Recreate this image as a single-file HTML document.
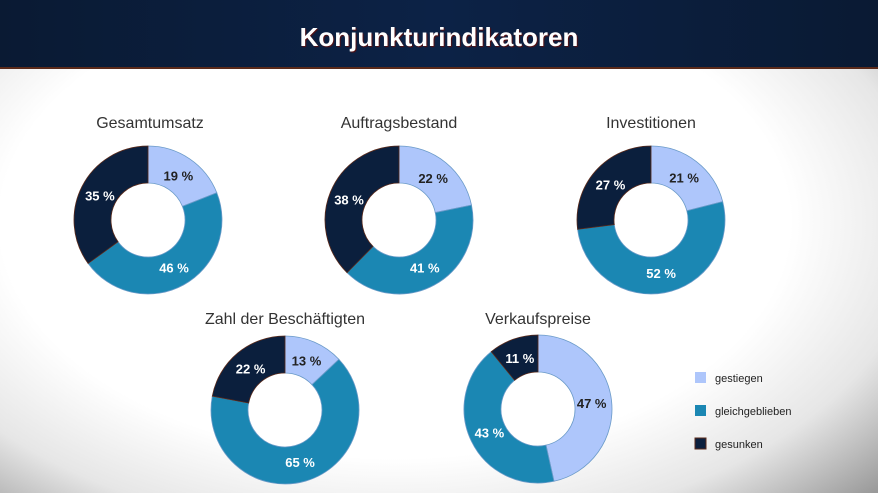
<!DOCTYPE html>
<html><head><meta charset="utf-8"><style>
html,body{margin:0;padding:0;width:878px;height:493px;overflow:hidden;font-family:"Liberation Sans",sans-serif}
#bg{position:absolute;left:0;top:0;width:878px;height:493px;background:radial-gradient(ellipse 75% 80% at 45% 45%,#fff 60%,#e6e6e6 80%,#9a9a9a 100%)}
#hdr{position:absolute;left:0;top:0;width:878px;height:67px;background:linear-gradient(90deg,#0a1a33,#0c2246 50%,#0a1a33);border-bottom:2px solid #5a2a1a}
#hdr div{color:#fff;font-weight:bold;font-size:26px;text-align:center;line-height:74px;text-shadow:1px 1px 1px #5a1010}
svg{position:absolute;left:0;top:0}
</style></head><body>
<div id="bg"></div>
<div id="hdr"><div>Konjunkturindikatoren</div></div>
<svg id="s" width="878" height="493" xmlns="http://www.w3.org/2000/svg" font-family="Liberation Sans, sans-serif">
<g font-size="16" fill="#333" text-anchor="middle">
<text x="150" y="128">Gesamtumsatz</text>
<text x="399" y="128">Auftragsbestand</text>
<text x="651" y="128">Investitionen</text>
<text x="285" y="324">Zahl der Beschäftigten</text>
<text x="538" y="324">Verkaufspreise</text>
</g>
<g font-size="11" fill="#222">
<rect x="695" y="372" width="11" height="11" fill="#aec6fb"/><text x="715" y="382">gestiegen</text>
<rect x="695" y="405" width="11" height="11" fill="#1b87b3"/><text x="715" y="415">gleichgeblieben</text>
<rect x="695" y="438" width="11" height="11" fill="#0b1f3d" stroke="#5a2a1a"/><text x="715" y="448">gesunken</text>
</g>
</svg>
<script>
var s=document.getElementById('s'),NS='http://www.w3.org/2000/svg';
var cols=['#aec6fb','#1b87b3','#0b1f3d'],tc=['#222','#fff','#fff'];
var charts=[[148,220,[19,46,35]],[399,220,[22,41,38]],[651,220,[21,52,27]],[285,410,[13,65,22]],[538,409,[47,43,11]]];
var R=74,r=37;
function pt(cx,cy,rad,a){return [cx+rad*Math.sin(a),cy-rad*Math.cos(a)];}
charts.forEach(function(c){
 var tot=c[2].reduce(function(a,b){return a+b},0),a0=0;
 c[2].forEach(function(v,i){
  var a1=a0+v/tot*2*Math.PI,l=(a1-a0)>Math.PI?1:0;
  var p1=pt(c[0],c[1],R,a0),p2=pt(c[0],c[1],R,a1),p3=pt(c[0],c[1],r,a1),p4=pt(c[0],c[1],r,a0);
  var p=document.createElementNS(NS,'path');
  p.setAttribute('d','M'+p1+'A'+R+','+R+' 0 '+l+' 1 '+p2+'L'+p3+'A'+r+','+r+' 0 '+l+' 0 '+p4+'Z');
  p.setAttribute('fill',cols[i]);p.setAttribute('stroke',i==2?'#5a2a1a':'#6a9ac8');p.setAttribute('stroke-width','0.8');
  s.appendChild(p);
  var m=pt(c[0],c[1],54,(a0+a1)/2);
  var t=document.createElementNS(NS,'text');
  t.setAttribute('x',m[0]);t.setAttribute('y',m[1]+5);t.setAttribute('text-anchor','middle');
  t.setAttribute('font-size','13');t.setAttribute('font-weight','bold');t.setAttribute('fill',tc[i]);
  t.textContent=v+' %';s.appendChild(t);
  a0=a1;
 });
});
</script>
</body></html>
